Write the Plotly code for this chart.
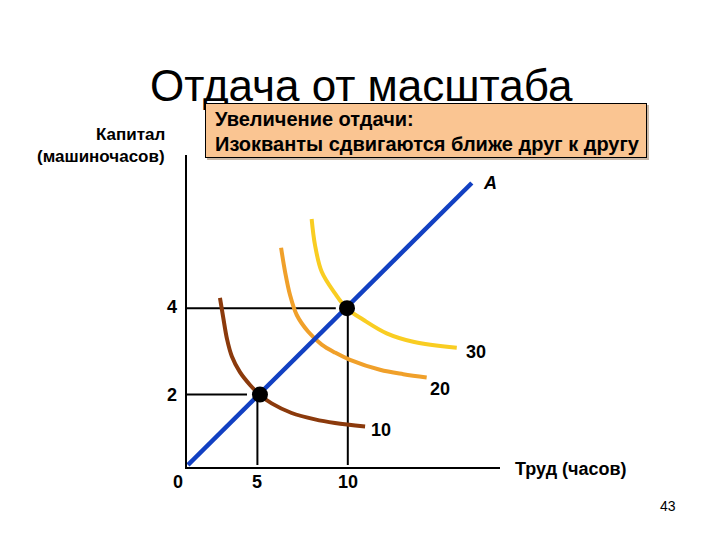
import plotly.graph_objects as go

# ---- data (labor units, capital units as drawn) ----
ray_labor = [0.06, 17.8]
ray_capital = [0.05, 7.1]

iso10_labor = [2.06, 2.27, 2.50, 2.80, 3.31, 3.94, 4.56, 5.29, 6.54, 8.0, 9.25, 11.13]
iso10_capital = [4.23, 3.72, 3.20, 2.77, 2.37, 2.05, 1.80, 1.59, 1.35, 1.19, 1.10, 1.01]

iso20_labor = [5.88, 6.13, 6.44, 6.86, 7.58, 8.42, 9.25, 10.19, 12.06, 13.52, 14.98]
iso20_capital = [5.48, 4.88, 4.30, 3.80, 3.38, 3.06, 2.86, 2.68, 2.43, 2.32, 2.24]

iso30_labor = [7.79, 8.0, 8.42, 9.25, 9.98, 11.02, 12.48, 14.14, 16.86]
iso30_capital = [6.2, 5.55, 4.88, 4.34, 3.97, 3.68, 3.34, 3.13, 2.98]

point_labor = [4.56, 10.0]
point_capital = [1.81, 3.97]
guide_h_end = [3.75, 9.3]
guide_v_x = [4.4, 10.05]

labor_ticks = [4.4, 10.05]
labor_tick_text = ["5", "10"]
capital_ticks = [1.81, 4.0]
capital_tick_text = ["2", "4"]

iso_labels = ["10", "20", "30"]
iso_label_labor = [12.1, 15.8, 18.05]
iso_label_capital = [0.92, 1.95, 2.88]

FONT = "Arial, Liberation Sans, sans-serif"
BLUE = "#1240C2"
BROWN = "#8B3A0C"
ORANGE = "#F0A02A"
YELLOW = "#F9CD22"

fig = go.Figure()

# guide lines
for i in range(2):
    fig.add_trace(go.Scatter(x=[0, guide_h_end[i]], y=[point_capital[i], point_capital[i]],
                             mode="lines", line=dict(color="black", width=2), showlegend=False, hoverinfo="skip"))
    fig.add_trace(go.Scatter(x=[guide_v_x[i], guide_v_x[i]], y=[0.05, point_capital[i]],
                             mode="lines", line=dict(color="black", width=2), showlegend=False, hoverinfo="skip"))

for lx, ly, col in [(iso10_labor, iso10_capital, BROWN),
                    (iso20_labor, iso20_capital, ORANGE),
                    (iso30_labor, iso30_capital, YELLOW)]:
    fig.add_trace(go.Scatter(x=lx, y=ly, mode="lines", line=dict(color=col, width=4, shape="spline", smoothing=1.0),
                             showlegend=False, hoverinfo="skip"))

fig.add_trace(go.Scatter(x=ray_labor, y=ray_capital, mode="lines", line=dict(color=BLUE, width=4.5),
                         showlegend=False, hoverinfo="skip"))

fig.add_trace(go.Scatter(x=point_labor, y=point_capital, mode="markers",
                         marker=dict(color="black", size=16), showlegend=False, hoverinfo="skip"))


def A(**kw):
    d = dict(showarrow=False, xanchor="center", yanchor="middle")
    d.update(kw)
    return d


ann = []
# title
ann.append(A(text="Отдача от масштаба", x=0.556, y=1.224, xref="paper", yref="paper",
             font=dict(family=FONT, size=44, color="black")))
# shadow + box
ann.append(A(text=" ", x=0.7636, y=1.0785, xref="paper", yref="paper", xshift=2, yshift=-2,
             width=440, height=53, bgcolor="#C8B8A8", borderpad=0, borderwidth=1, bordercolor="#C8B8A8"))
ann.append(A(text=" ", x=0.7636, y=1.0785, xref="paper", yref="paper",
             width=440, height=53, bgcolor="#FAC592", borderpad=0, borderwidth=1, bordercolor="black"))
ann.append(A(text="<b>Увеличение отдачи:</b>", x=0.083, y=1.115, xref="paper", yref="paper",
             xanchor="left", font=dict(family=FONT, size=20, color="black")))
ann.append(A(text="<b>Изокванты сдвигаются ближе друг к другу</b>", x=0.083, y=1.035, xref="paper",
             yref="paper", xanchor="left", font=dict(family=FONT, size=20, color="black")))
# axis titles
ann.append(A(text="<b>Капитал</b>", x=-0.064, y=1.065, xref="paper", yref="paper", xanchor="right",
             font=dict(family=FONT, size=17, color="black")))
ann.append(A(text="<b>(машиночасов)</b>", x=-0.064, y=0.994, xref="paper", yref="paper", xanchor="right",
             font=dict(family=FONT, size=17, color="black")))
ann.append(A(text="<b>Труд (часов)</b>", x=1.0415, y=-0.006, xref="paper", yref="paper", xanchor="left",
             font=dict(family=FONT, size=18, color="black")))
# ray label
ann.append(A(text="<b><i>A</i></b>", x=ray_labor[1], y=ray_capital[1], xref="x", yref="y", xshift=18,
             font=dict(family=FONT, size=18, color="black")))
# tick labels
ann.append(A(text="<b>0</b>", x=0, y=0, xref="x", yref="y", xshift=-9, yshift=-15,
             font=dict(family=FONT, size=18, color="black")))
for v, t in zip(labor_ticks, labor_tick_text):
    ann.append(A(text=f"<b>{t}</b>", x=v, y=0, xref="x", yref="y", yshift=-15,
                 font=dict(family=FONT, size=18, color="black")))
for v, t in zip(capital_ticks, capital_tick_text):
    ann.append(A(text=f"<b>{t}</b>", x=0, y=v, xref="x", yref="y", xshift=-15,
                 font=dict(family=FONT, size=18, color="black")))
for t, lx, ly in zip(iso_labels, iso_label_labor, iso_label_capital):
    ann.append(A(text=f"<b>{t}</b>", x=lx, y=ly, xref="x", yref="y",
                 font=dict(family=FONT, size=18, color="black")))
# slide number
ann.append(A(text="43", x=1.537, y=-0.125, xref="paper", yref="paper",
             font=dict(family=FONT, size=14, color="black")))

fig.update_layout(
    width=720, height=540,
    margin=dict(l=187, r=220, t=155, b=73),
    paper_bgcolor="white", plot_bgcolor="white",
    annotations=ann,
    xaxis=dict(range=[0, 19.5625], showgrid=False, zeroline=False, showticklabels=False, ticks="",
               showline=True, linecolor="black", linewidth=2),
    yaxis=dict(range=[0, 7.8], showgrid=False, zeroline=False, showticklabels=False, ticks="",
               showline=True, linecolor="black", linewidth=2),
)

fig.write_html("out.html")
